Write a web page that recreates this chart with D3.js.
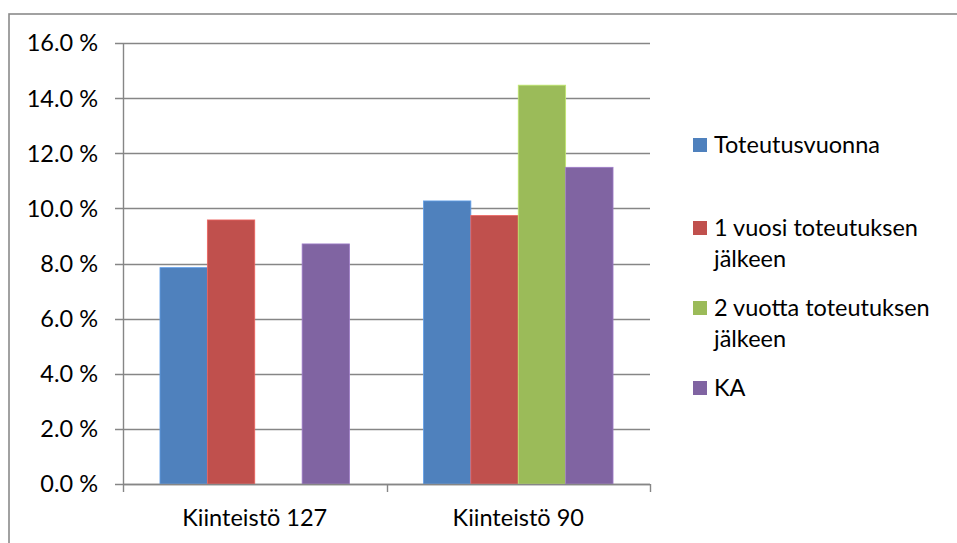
<!DOCTYPE html>
<html>
<head>
<meta charset="utf-8">
<script src="https://cdn.jsdelivr.net/npm/d3@7/dist/d3.min.js"></script>
<style>
  html, body { margin: 0; padding: 0; background: #fff; }
  svg { display: block; font-family: Lato, "Open Sans", sans-serif; }
</style>
</head>
<body>
<svg id="chart" width="957" height="543"></svg>
<script>
// Categories and series (values in percent)
const categories = ["Kiinteistö 127", "Kiinteistö 90"];
const seriesNames = [
  ["Toteutusvuonna"],
  ["1 vuosi toteutuksen", "jälkeen"],
  ["2 vuotta toteutuksen", "jälkeen"],
  ["KA"]
];
const toteutusvuonna = [7.85, 10.27];
const vuosi1 = [9.58, 9.74];
const vuotta2 = [0, 14.47];
const ka = [8.71, 11.49];
const yTicks = [0, 2, 4, 6, 8, 10, 12, 14, 16];
const colors = ["#4F81BD", "#C0504D", "#9BBB59", "#8064A2"];

const series = [toteutusvuonna, vuosi1, vuotta2, ka];

const svg = d3.select("#chart");
const fontSize = 23.5;

// Outer chart frame
svg.append("rect")
  .attr("x", 9).attr("y", 14)
  .attr("width", 1000).attr("height", 600)
  .attr("fill", "none").attr("stroke", "#8a8a8a").attr("stroke-width", 1.6);

const plot = { left: 123, right: 650, top: 43, bottom: 484 };

const y = d3.scaleLinear().domain([0, 16]).range([plot.bottom, plot.top]);
const x0 = d3.scaleBand().domain(categories).range([plot.left, plot.right]).paddingInner(0).paddingOuter(0);
const x1 = d3.scaleBand().domain(d3.range(series.length)).range([0, x0.bandwidth()]).paddingInner(0).paddingOuter(0.78);

// Horizontal gridlines
svg.append("g").selectAll("line").data(yTicks).join("line")
  .attr("x1", plot.left - 8).attr("x2", plot.right)
  .attr("y1", d => Math.round(y(d)) + 0.5).attr("y2", d => Math.round(y(d)) + 0.5)
  .attr("stroke", "#868686").attr("stroke-width", 1.4);

// Y axis labels
svg.append("g").selectAll("text").data(yTicks).join("text")
  .attr("x", 98).attr("y", d => y(d))
  .attr("dy", "0.36em")
  .attr("text-anchor", "end")
  .attr("font-size", fontSize).attr("fill", "#000")
  .text(d => d3.format(".1f")(d) + " %");

// Bars
const groups = svg.append("g").selectAll("g").data(categories).join("g")
  .attr("transform", c => `translate(${x0(c)},0)`);

groups.selectAll("rect")
  .data((c, ci) => series.map((s, si) => ({ si, v: s[ci] })).filter(d => d.v > 0))
  .join("rect")
  .attr("x", d => x1(d.si))
  .attr("width", x1.bandwidth())
  .attr("y", d => y(d.v))
  .attr("height", d => y(0) - y(d.v))
  .attr("fill", d => colors[d.si])
  .attr("stroke", d => d3.color(colors[d.si]).brighter(0.6))
  .attr("stroke-width", 0.8);

// Y axis line
svg.append("line")
  .attr("x1", plot.left + 0.5).attr("x2", plot.left + 0.5)
  .attr("y1", plot.top).attr("y2", plot.bottom)
  .attr("stroke", "#868686").attr("stroke-width", 1.4);

// X axis line and category ticks
svg.append("line")
  .attr("x1", plot.left).attr("x2", plot.right)
  .attr("y1", plot.bottom + 0.5).attr("y2", plot.bottom + 0.5)
  .attr("stroke", "#868686").attr("stroke-width", 1.4);

const catEdges = categories.map(c => x0(c)).concat([plot.right]);
svg.append("g").selectAll("line").data(catEdges).join("line")
  .attr("x1", d => Math.round(d) + 0.5).attr("x2", d => Math.round(d) + 0.5)
  .attr("y1", plot.bottom).attr("y2", plot.bottom + 8)
  .attr("stroke", "#868686").attr("stroke-width", 1.4);

svg.append("g").selectAll("text").data(categories).join("text")
  .attr("x", c => x0(c) + x0.bandwidth() / 2)
  .attr("y", 518).attr("dy", "0.36em")
  .attr("text-anchor", "middle")
  .attr("font-size", fontSize).attr("fill", "#000")
  .text(c => c);

// Legend
const legendY = [145, 228, 308, 388];
const legend = svg.append("g");
seriesNames.forEach((lines, i) => {
  legend.append("rect")
    .attr("x", 693).attr("y", legendY[i] - 7)
    .attr("width", 14).attr("height", 14)
    .attr("fill", colors[i]);
  const t = legend.append("text")
    .attr("x", 714).attr("y", legendY[i])
    .attr("font-size", fontSize).attr("fill", "#000");
  lines.forEach((ln, j) => {
    t.append("tspan")
      .attr("x", 714)
      .attr("dy", j === 0 ? "0.36em" : 31)
      .text(ln);
  });
});
</script>
</body>
</html>
